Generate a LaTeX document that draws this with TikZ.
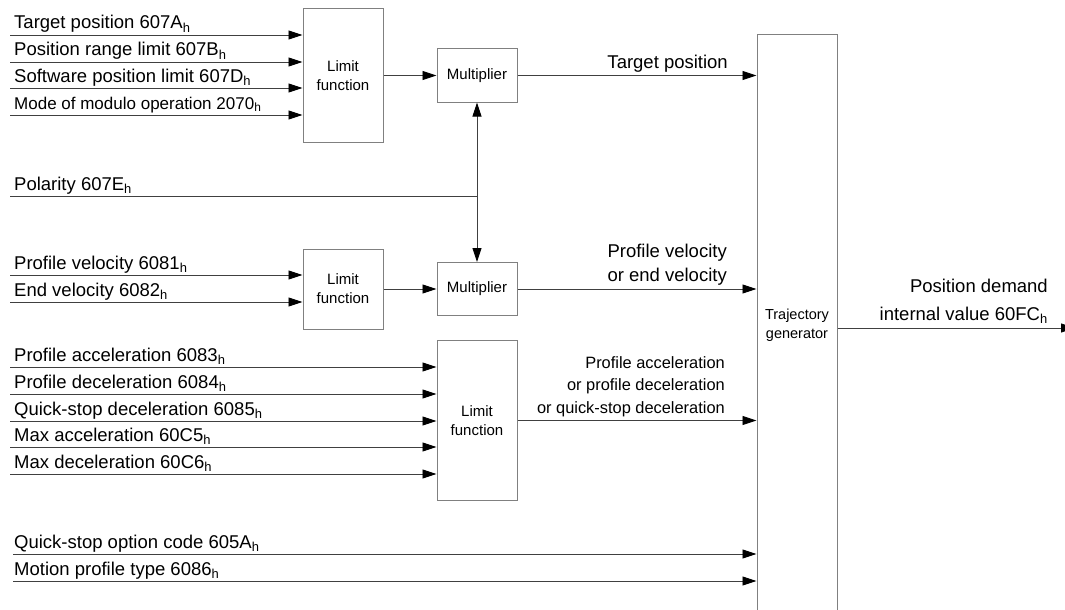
\documentclass[tikz,border=0pt]{standalone}
\usepackage{fontspec}
\setmainfont{Liberation Sans}
\usetikzlibrary{arrows.meta,calc}
\newcommand{\hx}[1]{#1\textsubscript{h}}
\newcommand{\lab}{\fontsize{18.5}{24}\selectfont}
\newcommand{\blab}{\fontsize{15}{19}\selectfont}
\tikzset{
  >={Triangle[length=14pt,width=9pt,black]},
  block/.style={draw=black!50,line width=1pt,fill=white,minimum width=80pt,inner sep=0pt,align=center,font=\blab},
  sig/.style={draw=black!75,line width=0.9pt,->},
  inlab/.style={anchor=base west,inner sep=0pt,font=\lab},
  outlab/.style={anchor=base east,inner sep=0pt,align=right,font=\lab}
}
\begin{document}
\begin{tikzpicture}[x=1pt,y=-1pt]
\useasboundingbox (0,0) rectangle (1065,610);
\node[block,minimum height=133pt] (lf1) at (343,75.5) {Limit\\function};
\node[block,minimum height=53pt] (mul1) at (477,75.5) {Multiplier};
\node[block,minimum height=80pt] (lf2) at (343,289) {Limit\\function};
\node[block,minimum height=53pt] (mul2) at (477,289) {Multiplier};
\node[block,minimum height=160pt] (lf3) at (477,420.5) {Limit\\function};
\node[block,minimum height=580pt,font=\fontsize{14.5}{19}\selectfont] (traj) at (797,325) {Trajectory\\generator};
\foreach \y/\txt [count=\i] in {35/Target position \hx{607A}, 62/Position range limit \hx{607B}, 88/Software position limit \hx{607D}, 115/{\fontsize{17}{20}\selectfont Mode of modulo operation \hx{2070}}} {
  \coordinate (a\i) at (10,\y);
  \node[inlab] (ta\i) at (14,\y-6) {\txt};
  \draw[sig] (a\i) -- (a\i -| lf1.west);
}
\foreach \y/\txt [count=\i] in {275/Profile velocity \hx{6081}, 302/End velocity \hx{6082}} {
  \coordinate (b\i) at (10,\y);
  \node[inlab] (tb\i) at (14,\y-6) {\txt};
  \draw[sig] (b\i) -- (b\i -| lf2.west);
}
\foreach \y/\txt [count=\i] in {367/Profile acceleration \hx{6083}, 394/Profile deceleration \hx{6084}, 421/Quick-stop deceleration \hx{6085}, 447/Max acceleration \hx{60C5}, 474/Max deceleration \hx{60C6}} {
  \coordinate (c\i) at (10,\y);
  \node[inlab] (tc\i) at (14,\y-6) {\txt};
  \draw[sig] (c\i) -- (c\i -| lf3.west);
}
\foreach \y/\txt [count=\i] in {554/Quick-stop option code \hx{605A}, 581/Motion profile type \hx{6086}} {
  \coordinate (d\i) at (13,\y);
  \node[inlab] (td\i) at (14,\y-6) {\txt};
  \draw[sig] (d\i) -- (d\i -| traj.west);
}
\coordinate (pol) at (10,196);
\node[inlab] (tpol) at (14,190) {Polarity \hx{607E}};
\draw[sig,-] (pol) -- (pol -| mul1.south);
\draw[sig,<->] (mul1.south) -- (mul2.north);
\draw[sig] (lf1) -- (mul1);
\draw[sig] (lf2) -- (mul2);
\draw[sig] (mul1) -- (mul1 -| traj.west);
\draw[sig] (mul2) -- (mul2 -| traj.west);
\draw[sig] (lf3) -- (lf3 -| traj.west);
\coordinate (out) at (1075,328);
\draw[sig] (traj.east |- out) -- (out);
\node[outlab] (ltp) at (728,68) {Target position};
\node[outlab] (lpv) at (727,281) {Profile velocity\\or end velocity};
\node[outlab,font=\fontsize{16.4}{22.4}\selectfont] (lpa) at (725,413) {Profile acceleration\\or profile deceleration\\or quick-stop deceleration};
\node[outlab,font=\fontsize{18.5}{28}\selectfont] (lpd) at (1048,320) {Position demand\\internal value \hx{60FC}};
\end{tikzpicture}
\end{document}
